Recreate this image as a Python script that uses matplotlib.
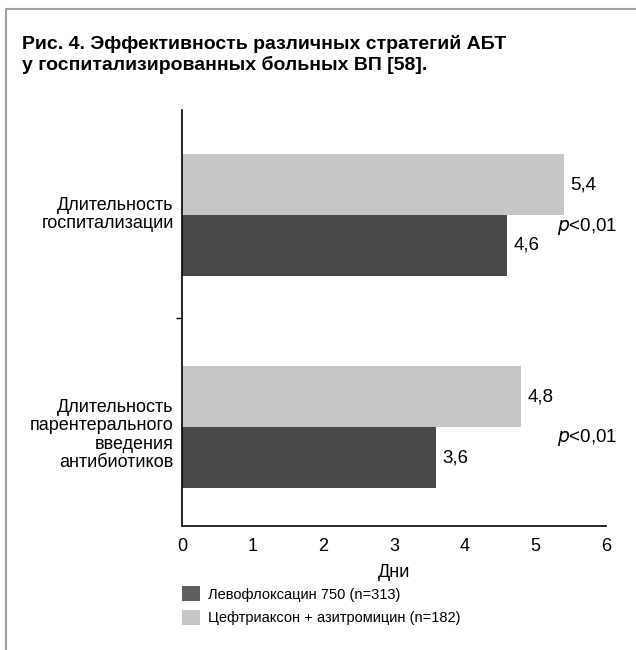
import numpy as np
import matplotlib.pyplot as plt
from matplotlib.patches import Patch
from matplotlib.lines import Line2D

# Daten (Tage)
kategorien = ["Длительность\nгоспитализации",
              "Длительность\nпарентерального\nвведения\nантибиотиков"]
levo = [4.6, 3.6]      # Левофлоксацин 750
ceft = [5.4, 4.8]      # Цефтриаксон + азитромицин
levo_txt = ["4,6", "3,6"]
ceft_txt = ["5,4", "4,8"]
x_ticks = [0, 1, 2, 3, 4, 5, 6]
legende = ["Левофлоксацин 750 (n=313)", "Цефтриаксон + азитромицин (n=182)"]
titel = ["Рис. 4. Эффективность различных стратегий АБТ",
         "у госпитализированных больных ВП [58]."]

dunkel = "#484848"
hell = "#c6c6c6"

plt.rcParams['font.family'] = ['Liberation Sans', 'DejaVu Sans']

fig = plt.figure(figsize=(6.36, 6.5), dpi=100)
ax = fig.add_axes([0.2862, 0.1908, 0.6667, 0.64])

y = np.array([0.505, 1.525])
h = 0.293
ax.barh(y - h / 2, ceft, height=h, color=hell)
ax.barh(y + h / 2, levo, height=h, color=dunkel)

for i in range(len(y)):
    ax.text(ceft[i] + 0.09, y[i] - h / 2, ceft_txt[i], va="center", ha="left", fontsize=13.5)
    ax.text(levo[i] + 0.09, y[i] + h / 2, levo_txt[i], va="center", ha="left", fontsize=13.5)

ax.text(5.3, 0.56, "$\\mathit{p}$<0,01", va="center", ha="left", fontsize=13.5)
ax.text(5.3, 1.575, "$\\mathit{p}$<0,01", va="center", ha="left", fontsize=13.5)

ax.set_xlim(0, 6)
ax.set_ylim(2.0, 0)
ax.set_xticks(x_ticks)
ax.set_xticklabels([str(v) for v in x_ticks], fontsize=13)
ax.tick_params(axis="x", length=0, pad=9)
ax.set_yticks([0.49, 1.55])
ax.set_yticklabels(kategorien, fontsize=13, linespacing=1.1)
ax.tick_params(axis="y", which="major", length=0, pad=6)
ax.set_yticks([1.0], minor=True)
ax.tick_params(axis="y", which="minor", length=4, width=1, direction="out")
ax.set_xlabel("Дни", fontsize=13, labelpad=6)

for s in ["top", "right"]:
    ax.spines[s].set_visible(False)
ax.spines["left"].set_linewidth(1.2)
ax.spines["bottom"].set_linewidth(1.2)

# Legende
handles = [Patch(facecolor="#5e5e5e"), Patch(facecolor=hell)]
fig.legend(handles, legende, loc="upper left", bbox_to_anchor=(0.277, 0.107),
           frameon=False, fontsize=10.5, handlelength=1.2, handleheight=1.2,
           handletextpad=0.55, labelspacing=0.55, borderaxespad=0)

# Titel
fig.text(0.0346, 0.9246, titel[0], fontsize=14, fontweight="bold",
         va="baseline", ha="left")
fig.text(0.0346, 0.8923, titel[1], fontsize=14, fontweight="bold",
         va="baseline", ha="left")

# Rahmen
fig.add_artist(Line2D([0.0095, 0.0095, 1.0], [0.0, 0.9865, 0.9865], color="#a0a0a0", lw=1.5,
                      transform=fig.transFigure))

fig.savefig("out.png", dpi=100)
